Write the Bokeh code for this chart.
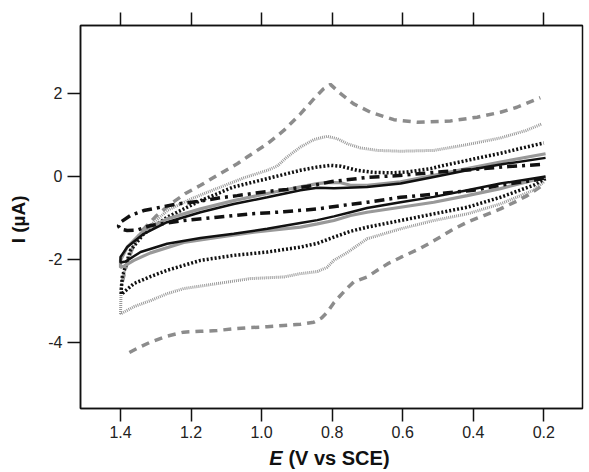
import math
from bokeh.plotting import figure
from bokeh.models import Range1d, LinearAxis, FixedTicker, Label
from bokeh.embed import file_html
from bokeh.resources import INLINE

# ---------------- data ----------------
x_ticks = [1.4, 1.2, 1.0, 0.8, 0.6, 0.4, 0.2]
x_tick_labels = ["1.4", "1.2", "1.0", "0.8", "0.6", "0.4", "0.2"]
y_ticks = [-4, -2, 0, 2]
y_tick_labels = ["-4", "-2", "0", "2"]

# gray dashed (largest)
gd_up_E = [1.395, 1.38, 1.36, 1.335, 1.30, 1.258, 1.216, 1.173, 1.126, 1.069, 1.041, 0.984, 0.937, 0.890,
           0.852, 0.825, 0.805, 0.776, 0.739, 0.691, 0.625, 0.559, 0.465, 0.389, 0.323, 0.276, 0.21]
gd_up_I = [-2.55, -2.05, -1.60, -1.28, -0.97, -0.67, -0.42, -0.22, 0.02, 0.30, 0.46, 0.78, 1.10, 1.50,
           1.86, 2.10, 2.21, 1.99, 1.74, 1.54, 1.36, 1.30, 1.33, 1.42, 1.54, 1.66, 1.89]
gd_lo_E = [1.386, 1.35, 1.315, 1.27, 1.221, 1.173, 1.126, 1.079, 1.032, 0.984, 0.937, 0.890, 0.852, 0.830,
           0.814, 0.795, 0.776, 0.757, 0.739, 0.701, 0.672, 0.640, 0.606, 0.55, 0.512, 0.465, 0.417, 0.37,
           0.323, 0.276, 0.247, 0.21]
gd_lo_I = [-4.30, -4.14, -4.00, -3.86, -3.76, -3.74, -3.72, -3.68, -3.65, -3.63, -3.60, -3.57, -3.52, -3.42,
           -3.28, -3.05, -2.87, -2.70, -2.55, -2.43, -2.27, -2.10, -1.96, -1.74, -1.56, -1.32, -1.11, -0.95,
           -0.79, -0.60, -0.47, -0.26]

# gray dotted
gt_up_E = [1.398, 1.385, 1.36, 1.334, 1.306, 1.266, 1.20, 1.145, 1.05, 0.984, 0.956, 0.928, 0.890, 0.852,
           0.814, 0.785, 0.757, 0.72, 0.672, 0.606, 0.512, 0.417, 0.323, 0.25, 0.205]
gt_up_I = [-2.65, -2.15, -1.62, -1.32, -1.12, -0.82, -0.55, -0.36, -0.04, 0.14, 0.24, 0.46, 0.70, 0.88,
           0.96, 0.90, 0.78, 0.68, 0.62, 0.60, 0.62, 0.76, 0.92, 1.10, 1.26]
gt_lo_E = [1.400, 1.36, 1.315, 1.27, 1.221, 1.126, 1.032, 0.937, 0.890, 0.842, 0.815, 0.795, 0.757, 0.701,
           0.606, 0.512, 0.417, 0.323, 0.229, 0.200]
gt_lo_I = [-3.32, -3.14, -3.00, -2.84, -2.71, -2.59, -2.47, -2.43, -2.35, -2.30, -2.20, -2.03, -1.84, -1.51,
           -1.27, -1.07, -0.91, -0.67, -0.34, -0.14]

# black dotted
bt_up_E = [1.398, 1.395, 1.372, 1.334, 1.268, 1.173, 1.079, 0.984, 0.890, 0.842, 0.805, 0.776, 0.729, 0.682,
           0.63, 0.587, 0.521, 0.493, 0.417, 0.323, 0.25, 0.200]
bt_up_I = [-2.75, -2.43, -1.79, -1.39, -0.99, -0.59, -0.26, -0.06, 0.14, 0.22, 0.26, 0.24, 0.14, 0.09,
           0.08, 0.10, 0.18, 0.24, 0.38, 0.55, 0.70, 0.80]
bt_lo_E = [1.398, 1.362, 1.315, 1.268, 1.173, 1.079, 0.984, 0.890, 0.842, 0.795, 0.748, 0.701, 0.606, 0.512,
           0.417, 0.323, 0.229, 0.195]
bt_lo_I = [-2.85, -2.59, -2.42, -2.27, -2.03, -1.91, -1.83, -1.71, -1.62, -1.47, -1.33, -1.23, -1.07, -0.91,
           -0.75, -0.51, -0.22, -0.06]

# gray solid
gs_up_E = [1.400, 1.381, 1.334, 1.268, 1.173, 1.079, 0.984, 0.890, 0.842, 0.81, 0.776, 0.748, 0.70, 0.606,
           0.512, 0.417, 0.323, 0.195]
gs_up_I = [-2.03, -1.71, -1.31, -1.03, -0.79, -0.59, -0.42, -0.26, -0.18, -0.15, -0.16, -0.22, -0.22, -0.14,
           0.02, 0.18, 0.34, 0.54]
gs_lo_E = [1.400, 1.390, 1.362, 1.315, 1.221, 1.126, 1.032, 0.937, 0.890, 0.842, 0.795, 0.748, 0.701, 0.606,
           0.512, 0.417, 0.323, 0.229, 0.195]
gs_lo_I = [-2.20, -2.17, -2.03, -1.85, -1.60, -1.48, -1.36, -1.27, -1.23, -1.15, -1.07, -0.95, -0.87, -0.75,
           -0.63, -0.47, -0.30, -0.10, -0.02]

# black solid
bs_up_E = [1.400, 1.381, 1.334, 1.268, 1.173, 1.079, 0.984, 0.890, 0.842, 0.795, 0.701, 0.606, 0.512, 0.417,
           0.323, 0.195]
bs_up_I = [-1.95, -1.71, -1.39, -1.11, -0.87, -0.67, -0.51, -0.34, -0.28, -0.29, -0.26, -0.18, -0.02, 0.14,
           0.28, 0.44]
bs_lo_E = [1.400, 1.386, 1.36, 1.343, 1.268, 1.173, 1.079, 0.984, 0.890, 0.842, 0.795, 0.748, 0.701, 0.606,
           0.512, 0.417, 0.323, 0.195]
bs_lo_I = [-2.08, -2.06, -1.92, -1.83, -1.63, -1.49, -1.39, -1.27, -1.13, -1.06, -0.97, -0.87, -0.77, -0.63,
           -0.50, -0.34, -0.18, -0.01]

# black dash-dot
dd_up_E = [1.400, 1.372, 1.334, 1.287, 1.239, 1.173, 1.117, 1.069, 0.994, 0.928, 0.871, 0.80, 0.70, 0.60,
           0.50, 0.40, 0.30, 0.21]
dd_up_I = [-1.11, -0.95, -0.83, -0.75, -0.67, -0.60, -0.52, -0.47, -0.38, -0.32, -0.25, -0.13, -0.03, 0.02,
           0.10, 0.16, 0.23, 0.28]
dd_lo_E = [1.406, 1.400, 1.381, 1.353, 1.315, 1.221, 1.126, 1.032, 0.937, 0.842, 0.748, 0.701, 0.606, 0.493,
           0.399, 0.323, 0.229, 0.20]
dd_lo_I = [-1.20, -1.28, -1.31, -1.30, -1.19, -1.07, -0.99, -0.91, -0.86, -0.79, -0.68, -0.63, -0.51, -0.42,
           -0.34, -0.22, -0.10, -0.05]

# ---------------- figure ----------------
p = figure(width=589, height=472,
           x_range=Range1d(1.5134, 0.0903), y_range=Range1d(-5.6, 3.63),
           output_backend="svg", toolbar_location=None,
           min_border_left=80, min_border_right=7, min_border_top=25, min_border_bottom=64)
p.grid.visible = False
p.background_fill_color = "white"
p.border_fill_color = "white"
p.outline_line_color = "#111111"
p.outline_line_width = 1.5

FONT = "Liberation Sans"


def style_axis(ax, ticks, labels):
    ax.ticker = FixedTicker(ticks=ticks)
    ax.major_label_overrides = {t: l for t, l in zip(ticks, labels)}
    ax.major_tick_out = 13
    ax.major_tick_in = 0
    ax.minor_tick_out = 0
    ax.minor_tick_in = 0
    ax.axis_line_width = 1.5
    ax.axis_line_color = "#111111"
    ax.major_tick_line_width = 1.5
    ax.major_tick_line_color = "#111111"
    ax.major_label_text_font = FONT
    ax.major_label_text_font_size = "16px"
    ax.major_label_text_color = "#222222"


style_axis(p.xaxis[0], x_ticks, x_tick_labels)
p.xaxis[0].major_label_standoff = 4
style_axis(p.yaxis[0], y_ticks, y_tick_labels)
p.yaxis[0].major_label_standoff = 5

# top axis: tick marks only (drawn as minor ticks so that no labels are produced)
top = LinearAxis(ticker=FixedTicker(ticks=[], minor_ticks=x_ticks))
top.major_tick_out = 13
top.major_tick_in = 0
top.minor_tick_out = 13
top.minor_tick_in = 0
top.minor_tick_line_width = 1.5
top.minor_tick_line_color = "#111111"
top.axis_line_width = 1.5
top.axis_line_color = "#111111"
top.major_label_standoff = 0
top.major_label_text_font_size = "1px"
p.add_layout(top, "above")


def cycle(lo_E, lo_I, up_E, up_I, gap=False):
    xs = list(reversed(lo_E))
    ys = list(reversed(lo_I))
    if gap:
        xs.append(float("nan"))
        ys.append(float("nan"))
    return xs + list(up_E), ys + list(up_I)


x, y = cycle(gd_lo_E, gd_lo_I, gd_up_E, gd_up_I, gap=True)
p.line(x, y, line_color="#8c8c8c", line_width=3.5, line_dash="8 6")

x, y = cycle(gt_lo_E, gt_lo_I, gt_up_E, gt_up_I)
p.line(x, y, line_color="#999999", line_width=3, line_dash="1 1")

x, y = cycle(bt_lo_E, bt_lo_I, bt_up_E, bt_up_I)
p.line(x, y, line_color="#111111", line_width=3.5, line_dash="2 2")

x, y = cycle(gs_lo_E, gs_lo_I, gs_up_E, gs_up_I)
p.line(x, y, line_color="#999999", line_width=3.2)

x, y = cycle(bs_lo_E, bs_lo_I, bs_up_E, bs_up_I)
p.line(x, y, line_color="#111111", line_width=2.5)

x, y = cycle(dd_lo_E, dd_lo_I, dd_up_E, dd_up_I)
p.line(x, y, line_color="#111111", line_width=3.5, line_dash="10 5 3 5")

# axis titles: placed in side panels (not clipped), positioned with the plot's own scales
# x title: italic "E" + bold "(V vs SCE)"
p.add_layout(Label(x=0.978, y=-7.05, text="E",
                   text_font=FONT, text_font_size="20px", text_font_style="bold italic",
                   text_color="#111111", text_align="left", text_baseline="bottom"), "left")
p.add_layout(Label(x=0.924, y=-7.05, text="(V vs SCE)",
                   text_font=FONT, text_font_size="20px", text_font_style="bold",
                   text_color="#111111", text_align="left", text_baseline="bottom"), "below")
# y title
p.add_layout(Label(x=1.688, y=-1.62, text="I (µA)",
                   angle=math.pi / 2, text_font=FONT, text_font_size="19px",
                   text_font_style="bold", text_color="#111111",
                   text_align="left", text_baseline="middle"), "left")

open("out.html", "w").write(file_html(p, INLINE))
